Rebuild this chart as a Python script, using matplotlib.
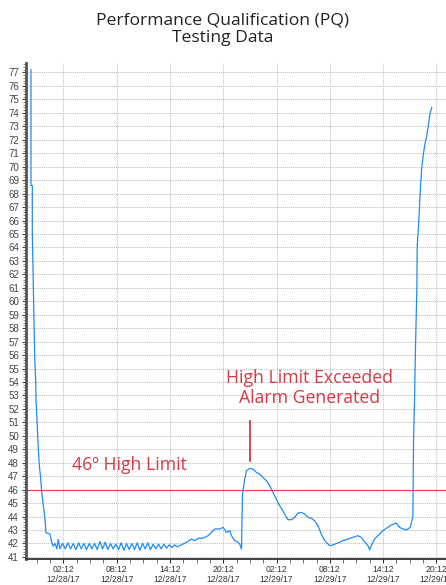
import matplotlib
matplotlib.use("Agg")
import matplotlib.pyplot as plt
import matplotlib.dates as mdates
import matplotlib.ticker as mticker
import pandas as pd

# hours after 12/28/17 00:00 and temperature readings
hours = [-1.46, -1.46, -1.31, -1.31, -1.20, -1.04, -0.93, -0.89, -0.63, -0.52, -0.36, -0.25,
         -0.07, 0.12, 0.23, 0.68, 0.87, 1.05,
         1.25, 1.45, 1.6, 1.8, 2.1, 2.4, 2.7, 3.0, 3.3, 3.6, 3.9, 4.2, 4.5, 4.8, 5.1, 5.4,
         5.7, 6.0, 6.3, 6.6, 6.9, 7.2, 7.5, 7.8, 8.1, 8.4, 8.7, 9.0, 9.3, 9.6, 9.9, 10.2,
         10.5, 10.8, 11.1, 11.4, 11.7, 12.0, 12.3, 12.6, 12.9, 13.2, 13.5, 13.8, 14.1, 14.4,
         14.7, 15.0, 15.3,
         16.06, 16.62, 16.99, 17.36, 17.93, 18.49, 19.05, 19.24, 19.80, 20.18, 20.56, 20.93,
         21.12, 21.49, 21.86, 22.05, 22.25, 22.36, 22.62, 22.81, 23.18, 23.55, 23.93, 24.30,
         24.67, 25.06, 25.43, 25.80, 26.18, 26.55, 26.92, 27.31, 27.49, 27.87, 28.24, 28.61,
         28.99, 29.37, 29.74, 30.12, 30.49, 30.86, 31.24, 31.62, 32.18, 32.55, 33.11, 33.67,
         34.24, 34.80, 35.36, 35.74, 36.11, 36.49, 36.68, 36.87, 37.24, 37.80, 38.17, 38.56,
         39.12, 39.68, 40.05, 40.42, 40.87, 41.26, 41.48, 41.55, 41.63, 41.74, 41.85, 42.00,
         42.04, 42.19, 42.30, 42.41, 42.56, 42.75, 42.94, 43.12, 43.35, 43.50, 43.68]
temps = [77.2, 68.6, 68.6, 65.0, 61.3, 55.9, 54.1, 52.7, 49.0, 47.8, 46.8, 45.8,
         44.8, 43.8, 42.8, 42.7, 42.1, 41.8,
         42.0, 41.6, 42.3, 41.6, 42.0, 41.6, 42.05, 41.6, 42.0, 41.55, 42.05, 41.6, 42.0, 41.55, 42.0, 41.6,
         42.0, 41.55, 42.15, 41.6, 42.1, 41.55, 42.0, 41.6, 41.95, 41.55, 42.05, 41.5, 42.0, 41.55, 42.0, 41.55,
         42.05, 41.5, 42.0, 41.6, 42.05, 41.55, 41.95, 41.6, 41.95, 41.6, 41.95, 41.65, 41.9, 41.7,
         41.9, 41.75, 41.84,
         42.09, 42.33, 42.21, 42.39, 42.39, 42.58, 42.95, 43.08, 43.08, 43.2, 42.83, 42.95,
         42.58, 42.21, 42.09, 41.96, 41.59, 45.67, 46.78, 47.40, 47.58, 47.53, 47.28, 47.16,
         46.91, 46.66, 46.29, 45.80, 45.30, 44.80, 44.43, 43.94, 43.77, 43.77, 43.94, 44.26,
         44.31, 44.19, 43.94, 43.87, 43.69, 43.32, 42.70, 42.21, 41.84, 41.89, 42.04, 42.21,
         42.33, 42.46, 42.58, 42.46, 42.13, 41.84, 41.54, 41.84, 42.33, 42.70, 42.95, 43.13,
         43.37, 43.52, 43.20, 43.08, 43.02, 43.20, 43.82, 44.0, 49.8, 52.7, 56.7, 60.9,
         64.1, 65.6, 67.1, 68.5, 70.0, 71.0, 71.8, 72.3, 73.3, 74.0, 74.4]

high_limit = 46
x_range = (-2.02, 45.6)
y_range = (40.85, 77.7)

BLUE = "#1f8bf5"
RED = "#d63a45"
base = pd.Timestamp("2017-12-28 00:00")


def to_num(h):
    return mdates.date2num(base + pd.to_timedelta(h, unit="h"))


times = [to_num(h) for h in hours]

fig = plt.figure(figsize=(4.46, 5.85), dpi=100)
ax = fig.add_axes([0.0583, 0.0445, 0.948, 0.8477])

ax.plot(times, temps, color=BLUE, lw=0.9, zorder=3)
ax.axhline(high_limit, color=RED, lw=0.9, alpha=0.9, zorder=2)
ax.plot([to_num(23.18)] * 2, [48.15, 51.1], color=RED, lw=1.3)

ax.text(to_num(3.2), 47.85, "46º High Limit", color=RED, fontsize=12.7,
        family="Open Sans", ha="left", va="center")
ax.text(to_num(29.9), 53.55, "High Limit Exceeded\nAlarm Generated", color=RED,
        fontsize=12.7, family="Open Sans", ha="center", va="center", linespacing=1.1)

ax.set_xlim(to_num(x_range[0]), to_num(x_range[1]))
ax.set_ylim(*y_range)

major = [to_num(2.2 + 6 * i) for i in range(8)]
minor = [to_num(2.2 + 1.5 * i) for i in range(-3, 30)]
ax.xaxis.set_major_locator(mticker.FixedLocator(major))
ax.xaxis.set_minor_locator(mticker.FixedLocator(minor))
ax.xaxis.set_major_formatter(mdates.DateFormatter("%H:%M\n%m/%d/%y"))
ax.yaxis.set_major_locator(mticker.MultipleLocator(1))
ax.yaxis.set_minor_locator(mticker.MultipleLocator(0.2))

ax.tick_params(axis="x", which="major", labelsize=6.2, colors="#333333", length=3, pad=1.5)
ax.tick_params(axis="x", which="minor", length=3, color="#555555")
ax.tick_params(axis="y", which="major", labelsize=7, colors="#444444", length=3, pad=2)
ax.tick_params(axis="y", which="minor", length=2, color="#777777")
for lab in ax.get_xticklabels():
    lab.set_family("Liberation Sans")
    lab.set_linespacing(1.05)
for lab in ax.get_yticklabels():
    lab.set_family("Liberation Sans")

ax.grid(True, which="major", axis="both", color="#bbbbbb", ls=(0, (1, 1)), lw=0.7)
for side in ("top", "right"):
    ax.spines[side].set_visible(False)
ax.spines["left"].set_linewidth(2)
ax.spines["left"].set_color("#555555")
ax.spines["bottom"].set_linewidth(1.3)
ax.spines["bottom"].set_color("#333333")

fig.text(0.5, 0.95, "Performance Qualification (PQ)\nTesting Data", ha="center", va="center",
         fontsize=12.6, family="Open Sans", color="#222222", linespacing=1.2)

fig.savefig("out.png", dpi=100)
